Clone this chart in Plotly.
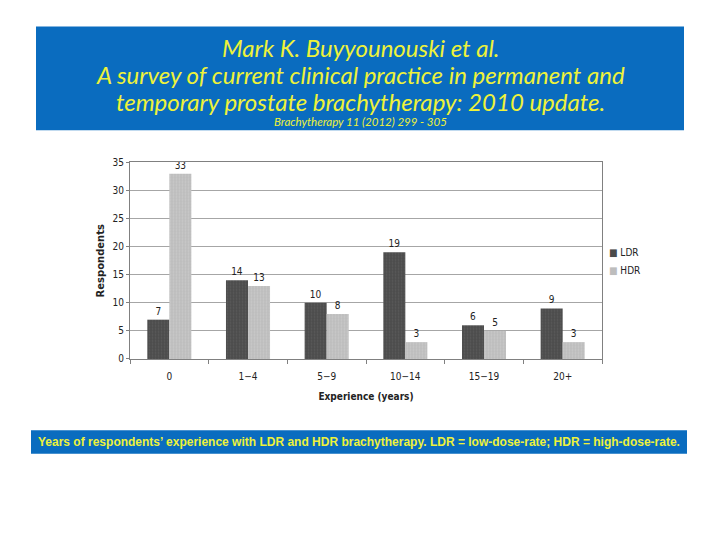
import plotly.graph_objects as go

categories = ["0", "1\u22124", "5\u22129", "10\u221214", "15\u221219", "20+"]
ldr = [7, 14, 10, 19, 6, 9]
hdr = [33, 13, 8, 3, 5, 3]
y_ticks = [0, 5, 10, 15, 20, 25, 30, 35]
series_names = ["LDR", "HDR"]
series_colors = ["#4b4b4b", "#bdbdbd"]

title_lines = [
    "Mark K. Buyyounouski et al.",
    "A survey of current clinical practice in permanent and",
    "temporary prostate brachytherapy: 2010 update.",
]
reference = "Brachytherapy 11 (2012) 299 - 305"
caption = ("Years of respondents\u2019 experience with LDR and HDR brachytherapy. "
           "LDR = low-dose-rate; HDR = high-dose-rate.")

W, H = 720, 540
blue = "#0a6cbf"
yellow = "#eef23a"
chart_family = "DejaVu Sans Condensed, DejaVu Sans"

fig = go.Figure()
for name, vals, col, dot in zip(series_names, [ldr, hdr], series_colors,
                                ["#6b6b6b", "#d6d6d6"]):
    fig.add_trace(go.Bar(
        x=categories, y=vals, name=name,
        marker=dict(color=col, line=dict(width=0),
                    pattern=dict(shape=".", size=3, solidity=0.3,
                                 fgcolor=dot, bgcolor=col)),
        text=vals, textposition="outside", cliponaxis=False,
        textfont=dict(size=10, color="#222222", family=chart_family),
    ))

tick_font = dict(size=10, color="#222222", family=chart_family)

fig.update_xaxes(
    domain=[130 / W, 602 / W],
    showline=True, linecolor="#808080", linewidth=1, mirror=True,
    ticks="outside", tickson="boundaries", ticklen=4, tickcolor="#808080",
    tickfont=tick_font, ticklabelstandoff=8,
    title=dict(text="<b>Experience (years)</b>",
               font=dict(size=10, color="#222222", family=chart_family),
               standoff=12),
)
fig.update_yaxes(
    domain=[1 - 361 / H, 1 - 160 / H],
    range=[0, 35], tickvals=y_ticks,
    showgrid=True, gridcolor="#a6a6a6", gridwidth=1,
    showline=True, linecolor="#808080", linewidth=1, mirror=True,
    ticks="outside", ticklen=3, tickcolor="#808080",
    tickfont=tick_font, zeroline=False,
    title=dict(text="<b>Respondents</b>",
               font=dict(size=10, color="#222222", family="DejaVu Sans"),
               standoff=6),
)

# header box and caption box
fig.add_shape(type="rect", xref="paper", yref="paper",
              x0=36 / W, x1=684 / W, y0=1 - 127 / H, y1=1 - 21 / H,
              fillcolor=blue, line=dict(width=0), layer="below")
fig.add_shape(type="rect", xref="paper", yref="paper",
              x0=31 / W, x1=687 / W, y0=1 - 458 / H, y1=1 - 434 / H,
              fillcolor=blue, line=dict(width=0), layer="below")

for i, line in enumerate(title_lines):
    fig.add_annotation(
        text="<i>" + line + "</i>", xref="paper", yref="paper",
        x=360 / W, y=1 - (42 + 28 * i) / H, showarrow=False,
        xanchor="center", yanchor="middle",
        font=dict(size=24, color=yellow, family="Lato"),
    )
fig.add_annotation(
    text="<i>" + reference + "</i>", xref="paper", yref="paper",
    x=360 / W, y=1 - 118 / H, showarrow=False,
    xanchor="center", yanchor="middle",
    font=dict(size=11.5, color=yellow, family="Lato"),
)
fig.add_annotation(
    text="<b>" + caption + "</b>", xref="paper", yref="paper",
    x=359 / W, y=1 - 446 / H, showarrow=False,
    xanchor="center", yanchor="middle",
    font=dict(size=12, color=yellow, family="Liberation Sans"),
)

# legend keys, drawn as text so the small square sits right next to the label
for i, (name, col) in enumerate(zip(series_names, series_colors)):
    fig.add_annotation(
        text='<span style="color:%s">\u25a0</span> %s' % (col, name),
        xref="paper", yref="paper", x=607 / W, y=1 - (252 + 18 * i) / H,
        showarrow=False, xanchor="left", yanchor="middle",
        font=dict(size=10, color="#222222", family=chart_family),
    )

fig.update_layout(
    width=W, height=H,
    margin=dict(l=0, r=0, t=0, b=0),
    paper_bgcolor="white", plot_bgcolor="white",
    barmode="group", bargap=0.44, bargroupgap=0,
    showlegend=False,
)

fig.write_html("out.html", config={"displayModeBar": False},
               post_script="document.body.style.margin='0';")
